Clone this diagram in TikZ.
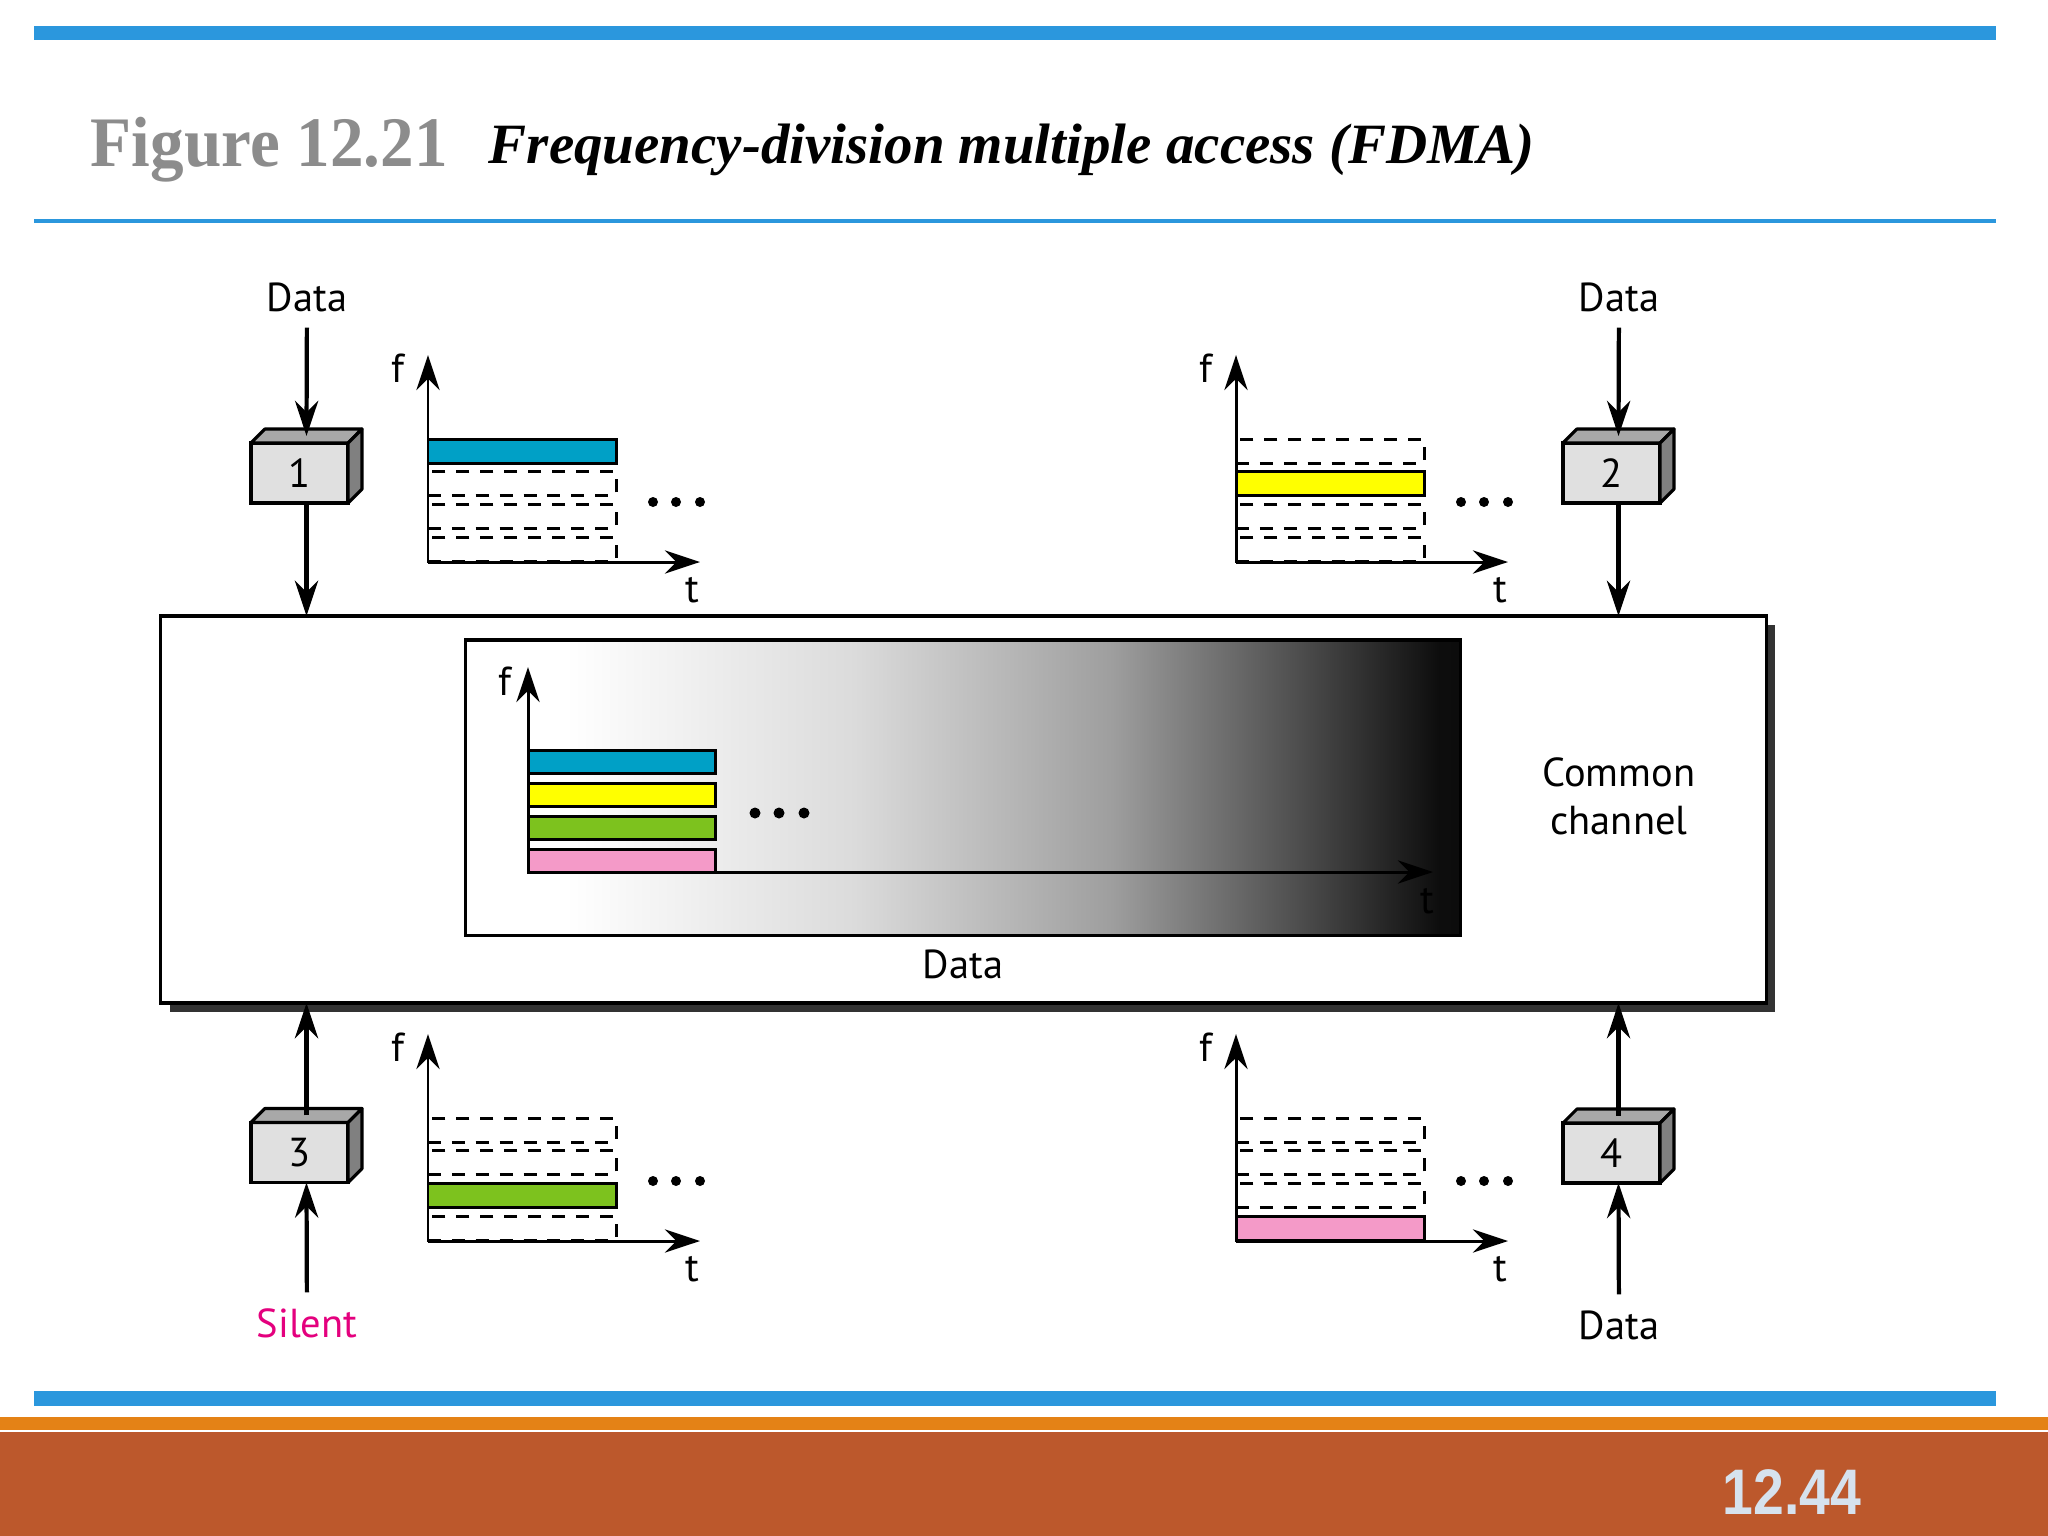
\documentclass[tikz,border=0pt]{standalone}
\usepackage{fontspec}
\usepackage{graphicx}
\setmainfont{PT Sans}
\newfontfamily\titlefont{Liberation Serif}
\newfontfamily\pagefont{Liberation Sans}
\usetikzlibrary{arrows.meta, calc, shadows}

\definecolor{slideblue}{RGB}{43,151,221}
\definecolor{figgray}{RGB}{140,140,140}
\definecolor{barorange}{RGB}{228,130,22}
\definecolor{footrust}{RGB}{188,88,44}
\definecolor{pagenum}{RGB}{214,226,238}
\definecolor{chblue}{RGB}{0,160,198}
\definecolor{chyellow}{RGB}{255,255,0}
\definecolor{chgreen}{RGB}{125,194,30}
\definecolor{chpink}{RGB}{244,154,200}
\definecolor{silentred}{RGB}{228,0,126}
\definecolor{facefront}{RGB}{224,224,224}
\definecolor{facetop}{RGB}{168,168,168}
\definecolor{faceside}{RGB}{128,128,128}

\pgfdeclarehorizontalshading{fade}{100bp}{color(0bp)=(white); color(30bp)=(white);
  color(44.5bp)=(black!14); color(57.5bp)=(black!38); color(67bp)=(black!70);
  color(74bp)=(black!95); color(100bp)=(black)}

\begin{document}
\begin{tikzpicture}[
                x = 0.01cm, y = -0.01cm, % one unit = one pixel of the slide
                > = {Stealth[length=10pt, width=6.6pt]}, % arrow head style
                line width = 1.1pt % line style
            ]

            \tikzstyle{every node}=[font=\fontsize{11.5}{13.7}\selectfont, inner sep=0pt]
            \tikzstyle{station}=[draw=black, fill=facefront, outer sep=0pt,
            minimum width=0.97cm, minimum height=0.6cm, line width=0.9pt]
            \tikzstyle{tag}=[inner sep=4pt]
            \tikzstyle{link}=[->, line width=1.2pt]
            \tikzstyle{axis}=[->, line width=0.85pt]
            \tikzstyle{slot}=[draw=black, dash pattern=on 3.7pt off 3.1pt, line width=0.85pt]
            \tikzstyle{busy}=[draw=black, line width=0.85pt]

            \useasboundingbox (0,0) rectangle (2048,1536);
            \fill[white] (0,0) rectangle (2048,1536);

            % slide frame
            \fill[slideblue] (34,26) rectangle (1996,40);
            \fill[slideblue] (34,219) rectangle (1996,223);
            \fill[slideblue] (34,1391) rectangle (1996,1406);
            \fill[barorange] (0,1417) rectangle (2048,1430);
            \fill[footrust] (0,1432) rectangle (2048,1536);

            \node[anchor=base west, text=figgray, font=\titlefont\bfseries\fontsize{20.2}{24}\selectfont]
            (fignum) at (89,166) {\scalebox{0.945}[1]{Figure 12.21}};
            \node[anchor=base west, font=\titlefont\bfseries\itshape\fontsize{16.2}{20}\selectfont]
            (figtitle) at (487,163) {Frequency-division multiple access (FDMA)};
            \node[text=pagenum, font=\pagefont\bfseries\fontsize{18.3}{22}\selectfont]
            (pageno) at (1792,1492) {\scalebox{0.86}[1]{12.44}};

            % common channel with the shared spectrum
            \node[draw=black, fill=white, outer sep=0pt, minimum width=16.05cm, minimum height=3.87cm,
            drop shadow={shadow xshift=0.09cm, shadow yshift=-0.09cm, fill=black!80, opacity=1}]
            (chan) at (963.5,809.5) {};
            \node[draw=black, shade, shading=fade, minimum width=9.94cm, minimum height=2.95cm,
            line width=0.9pt] (spec) at (963,787.5) {};
            \node[align=center] (common) at (1619,796) {Common\\channel};
            \node (mixed) at (963,964) {Data};

            \coordinate (o0) at (528,872);
            \begin{scope}[shift={(o0)}]
                \foreach \k/\col in {1/chblue, 2/chyellow, 3/chgreen, 4/chpink}
                    \draw[busy, fill=\col] (0,{-122+33*(\k-1)}) rectangle ++(187,23);
                \foreach \d in {227,251,276} \fill (\d,-59) circle [radius=5.5];
            \end{scope}
            \draw[axis] (o0) -- ++(0,-205);
            \draw[axis] (o0) -- ++(905,0);
            \node (f0) at (505,681) {f}; \node (t0) at (1427,901) {t};

            % senders: origin of chart, busy slot, colour
            \foreach \cx/\cy/\b/\col [count=\c] in {428/562/1/chblue, 1236/562/2/chyellow,
                428/1241/3/chgreen, 1236/1241/4/chpink} {
                \coordinate (o\c) at (\cx,\cy);
                \begin{scope}[shift={(o\c)}]
                    \foreach \k in {1,...,4}
                        \draw[slot] (0,{-123+32.67*(\k-1)}) rectangle ++(188,24);
                    \draw[busy, fill=\col] (0,{-123+32.67*(\b-1)}) rectangle ++(188,24);
                    \foreach \d in {225,248,272} \fill (\d,-60) circle [radius=5];
                    \node (f\c) at (-30,-194) {f}; \node (t\c) at (264,28) {t};
                \end{scope}
                \draw[axis] (o\c) -- ++(0,-207);
                \draw[axis] (o\c) -- ++(272,0);
            }

            % stations
            \node[station] (s1) at (299.5,473) {1}; \node[station] (s2) at (1611.5,473) {2};
            \node[station] (s3) at (299.5,1152.5) {3}; \node[station] (s4) at (1611.5,1153) {4};
            \foreach \s in {s1,s2,s3,s4} {
                \filldraw[fill=facetop, line width=0.9pt, line join=round]
                (\s.north west) -- ++(14,-14) -- ++(97,0) -- (\s.north east) -- cycle;
                \filldraw[fill=faceside, line width=0.9pt, line join=round]
                (\s.north east) -- ++(14,-14) -- ++(0,60) -- (\s.south east) -- cycle;
                \coordinate (\s-top) at ([shift={(7,-7)}]\s.north);
                \coordinate (\s-foot) at ([shift={(7,0)}]\s.south);
            }

            \node[tag] (d1) at (307,297) {Data}; \node[tag] (d2) at (1619,297) {Data};
            \node[tag, text=silentred] (d3) at (307,1323) {Silent};
            \node[tag] (d4) at (1619,1325) {Data};

            \draw[link] (d1) -- (s1-top); \draw[link] (s1-foot) -- (s1-foot |- chan.north);
            \draw[link] (d2) -- (s2-top); \draw[link] (s2-foot) -- (s2-foot |- chan.north);
            \draw[link] (d3) -- (s3-foot); \draw[link] (s3-top) -- (s3-top |- chan.south);
            \draw[link] (d4) -- (s4-foot); \draw[link] (s4-top) -- (s4-top |- chan.south);

        \end{tikzpicture}
\end{document}
